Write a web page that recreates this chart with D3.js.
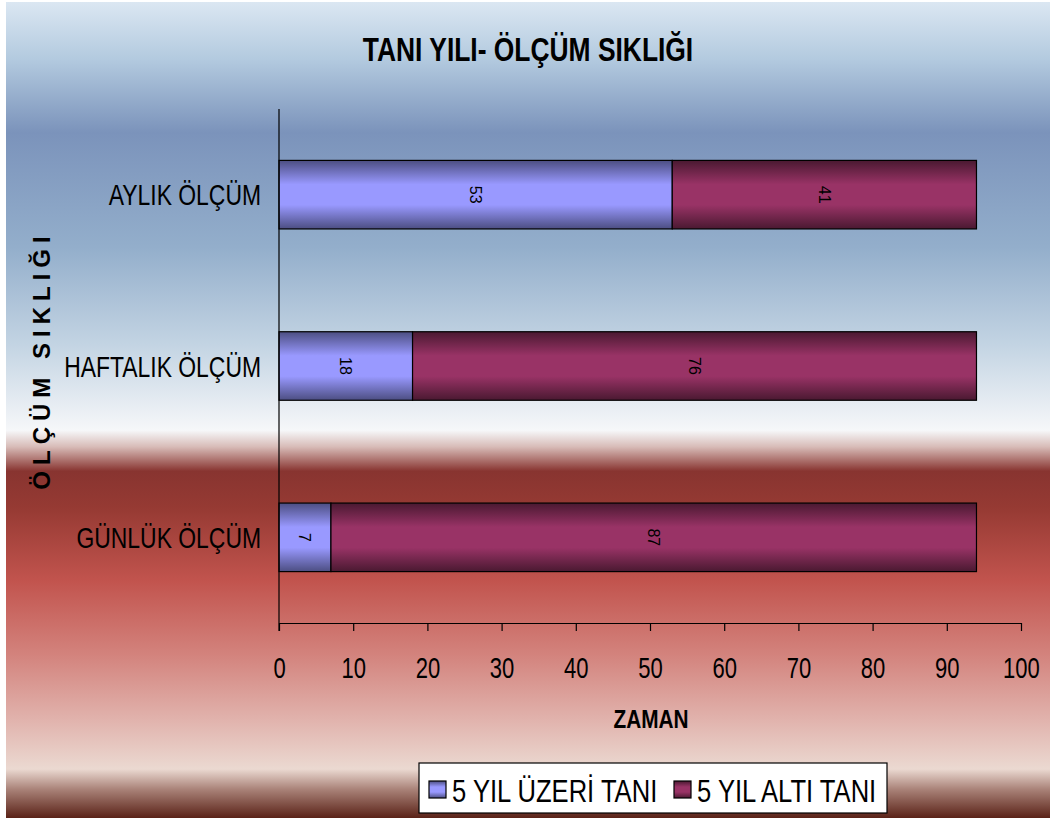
<!DOCTYPE html>
<html>
<head>
<meta charset="utf-8">
<script src="https://cdn.jsdelivr.net/npm/d3@7"></script>
<style>
  html, body { margin: 0; padding: 0; background: #ffffff; }
  svg { display: block; }
  text { font-family: "Liberation Sans", Arial, sans-serif; fill: #000; }
</style>
</head>
<body>
<svg id="chart" width="1050" height="822"></svg>
<script>
// Measurement frequency by diagnosis period
const categories = ["AYLIK ÖLÇÜM", "HAFTALIK ÖLÇÜM", "GÜNLÜK ÖLÇÜM"];
const seriesNames = ["5 YIL ÜZERİ TANI", "5 YIL ALTI TANI"];
const over5Years = [53, 18, 7];
const under5Years = [41, 76, 87];
const xTicks = [0, 10, 20, 30, 40, 50, 60, 70, 80, 90, 100];

const chartTitle = "TANI YILI- ÖLÇÜM SIKLIĞI";
const xTitle = "ZAMAN";
const yTitle = "ÖLÇÜM SIKLIĞI";

const NARROW = 0.79; // horizontal squeeze for the condensed face

const svg = d3.select("#chart");
const defs = svg.append("defs");

// Backdrop gradient
const bg = defs.append("linearGradient")
  .attr("id", "bgGrad").attr("x1", 0).attr("y1", 0).attr("x2", 0).attr("y2", 1);
[
  [0.00, "#dbe7f2"],
  [0.07, "#b3cadf"],
  [0.16, "#7b93bb"],
  [0.30, "#93aecb"],
  [0.42, "#c3d4e3"],
  [0.525, "#f6f7f9"],
  [0.545, "#d8bcb8"],
  [0.575, "#883430"],
  [0.62, "#963a33"],
  [0.71, "#c2544e"],
  [0.80, "#d3837d"],
  [0.88, "#e1b3ad"],
  [0.94, "#ebd9d1"],
  [0.965, "#a98278"],
  [1.00, "#5a2217"]
].forEach(([o, c]) => bg.append("stop").attr("offset", o).attr("stop-color", c));

// Bar fills: darker at top and bottom edges, light in the middle
function barGradient(id, edge, mid) {
  const g = defs.append("linearGradient")
    .attr("id", id).attr("x1", 0).attr("y1", 0).attr("x2", 0).attr("y2", 1);
  g.append("stop").attr("offset", 0).attr("stop-color", edge);
  g.append("stop").attr("offset", 0.35).attr("stop-color", mid);
  g.append("stop").attr("offset", 0.65).attr("stop-color", mid);
  g.append("stop").attr("offset", 1).attr("stop-color", edge);
}
barGradient("gradOver", "#4c4e82", "#9999ff");
barGradient("gradUnder", "#4a1931", "#993366");
const fills = ["url(#gradOver)", "url(#gradUnder)"];

svg.append("rect")
  .attr("x", 6).attr("y", 2).attr("width", 1044).attr("height", 816)
  .attr("fill", "url(#bgGrad)");

const plot = { left: 279, right: 1021, top: 109, bottom: 623 };

const x = d3.scaleLinear().domain([0, 100]).range([plot.left, plot.right]);
const y = d3.scaleBand().domain(categories)
  .range([plot.top, plot.bottom]).paddingInner(0.6).paddingOuter(0.3);

// Stack the two series
const rows = categories.map((c, i) => ({ cat: c, over: over5Years[i], under: under5Years[i] }));
const stack = d3.stack().keys(["over", "under"]);
const layers = stack(rows);

const gBars = svg.append("g");
layers.forEach((layer, li) => {
  gBars.selectAll(null).data(layer).join("rect")
    .attr("x", d => x(d[0]))
    .attr("y", d => y(d.data.cat))
    .attr("width", d => x(d[1]) - x(d[0]))
    .attr("height", y.bandwidth())
    .attr("fill", fills[li])
    .attr("stroke", "#000").attr("stroke-width", 1.2);
  gBars.selectAll(null).data(layer).join("text")
    .attr("transform", d => `translate(${(x(d[0]) + x(d[1])) / 2},${y(d.data.cat) + y.bandwidth() / 2}) rotate(90)`)
    .attr("text-anchor", "middle")
    .attr("dominant-baseline", "central")
    .style("font-size", "16px")
    .text(d => d[1] - d[0]);
});

// X axis
const xAxis = svg.append("g")
  .attr("transform", `translate(0,${plot.bottom})`)
  .call(d3.axisBottom(x).tickValues(xTicks).tickSize(8).tickSizeOuter(0).tickPadding(26));
xAxis.selectAll("line, path").attr("stroke", "#000").attr("stroke-width", 1.2);
xAxis.selectAll("text")
  .attr("transform", "scale(0.76,1)")
  .style("font-size", "29px")
  .style("font-family", "'Liberation Sans', Arial, sans-serif");

// Y axis
const yAxis = svg.append("g")
  .attr("transform", `translate(${plot.left},0)`)
  .call(d3.axisLeft(y).tickSize(0).tickPadding(0));
yAxis.select(".domain").attr("stroke", "#000").attr("stroke-width", 1.2)
  .attr("d", `M0,${plot.top}V${plot.bottom + 8}`);
yAxis.selectAll("text")
  .attr("x", -18 / NARROW)
  .attr("dy", "0.37em")
  .attr("transform", `scale(${NARROW},1)`)
  .style("font-size", "29px")
  .style("font-family", "'Liberation Sans', Arial, sans-serif");

// Titles
svg.append("text")
  .attr("transform", "translate(528,61) scale(0.8,1)")
  .attr("text-anchor", "middle")
  .style("font-size", "33px").style("font-weight", "bold")
  .text(chartTitle);

svg.append("text")
  .attr("transform", "translate(651,728) scale(0.8,1)")
  .attr("text-anchor", "middle")
  .style("font-size", "26px").style("font-weight", "bold")
  .text(xTitle);

svg.append("text")
  .attr("transform", "translate(50,360) rotate(-90)")
  .attr("text-anchor", "middle")
  .style("font-size", "24px").style("font-weight", "bold")
  .style("letter-spacing", "6px")
  .text(yTitle);

// Legend
const legend = svg.append("g");
legend.append("rect")
  .attr("x", 419).attr("y", 763).attr("width", 468).attr("height", 50)
  .attr("fill", "#ffffff").attr("stroke", "#000").attr("stroke-width", 1.2);
const legendX = [429, 674];
seriesNames.forEach((name, i) => {
  legend.append("rect")
    .attr("x", legendX[i]).attr("y", 781).attr("width", 17).attr("height", 17)
    .attr("fill", fills[i]).attr("stroke", "#000").attr("stroke-width", 1.2);
  legend.append("text")
    .attr("transform", `translate(${legendX[i] + 23},802) scale(0.8,1)`)
    .style("font-size", "32px")
    .text(name);
});
</script>
</body>
</html>
